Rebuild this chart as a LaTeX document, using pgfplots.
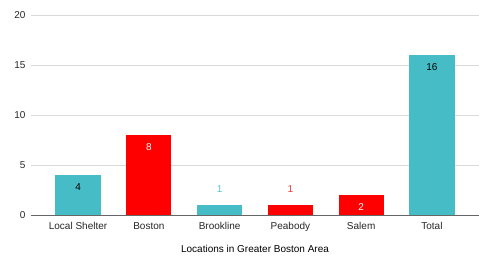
\documentclass[border=0pt]{standalone}
\usepackage{pgfplots}
\pgfplotsset{compat=1.18}
\usepackage{fontspec}
\setmainfont{Liberation Sans}
\definecolor{tealbar}{HTML}{46BDC6}
\definecolor{redbar}{HTML}{FF0000}
\definecolor{teallab}{HTML}{5CC4CC}
\definecolor{redlab}{HTML}{F03C3C}
\definecolor{gridc}{HTML}{D9D9D9}
\begin{document}
\begin{tikzpicture}
\useasboundingbox (-31pt,-43pt) rectangle (448pt,215pt);
\begin{axis}[
  at={(0pt,0pt)}, anchor=south west,
  scale only axis, width=448pt, height=200pt,
  xmin=-0.665, xmax=5.665, ymin=0, ymax=20,
  ytick={0,5,10,15,20},
  xtick={0,1,2,3,4,5},
  xticklabels={Local Shelter,Boston,Brookline,Peabody,Salem,Total},
  axis line style={draw=none},
  major tick length=0pt,
  ymajorgrids, grid style={gridc, line width=0.8pt},
  tick label style={font=\fontsize{10}{12}\selectfont, text=black!85},
  /pgf/number format/assume math mode=true,
  xticklabel style={yshift=-4pt},
  yticklabel style={xshift=-2pt},
  xlabel={Locations in Greater Boston Area},
  xlabel style={font=\fontsize{10}{12}\selectfont, at={(axis description cs:0.5,0)}, anchor=north, yshift=-27pt},
  nodes near coords style={font=\fontsize{10}{12}\selectfont},
  clip=false,
]
\addplot[ybar, bar shift=0pt, bar width=0.64, fill=tealbar, draw=none,
  nodes near coords, every node near coord/.append style={anchor=north, yshift=-5pt, text=black}]
  coordinates {(0,4)};
\addplot[ybar, bar shift=0pt, bar width=0.64, fill=redbar, draw=none,
  nodes near coords, every node near coord/.append style={anchor=north, yshift=-5pt, text=white}]
  coordinates {(1,8)};
\addplot[ybar, bar shift=0pt, bar width=0.64, fill=tealbar, draw=none,
  nodes near coords, every node near coord/.append style={anchor=south, yshift=9pt, text=teallab}]
  coordinates {(2,1)};
\addplot[ybar, bar shift=0pt, bar width=0.64, fill=redbar, draw=none,
  nodes near coords, every node near coord/.append style={anchor=south, yshift=9pt, text=redlab}]
  coordinates {(3,1)};
\addplot[ybar, bar shift=0pt, bar width=0.64, fill=redbar, draw=none,
  nodes near coords, every node near coord/.append style={anchor=north, yshift=-5pt, text=white}]
  coordinates {(4,2)};
\addplot[ybar, bar shift=0pt, bar width=0.64, fill=tealbar, draw=none,
  nodes near coords, every node near coord/.append style={anchor=north, yshift=-5pt, text=black}]
  coordinates {(5,16)};
\draw[black!60, line width=0.9pt] (rel axis cs:0,0) -- (rel axis cs:1,0);
\end{axis}
\end{tikzpicture}
\end{document}
